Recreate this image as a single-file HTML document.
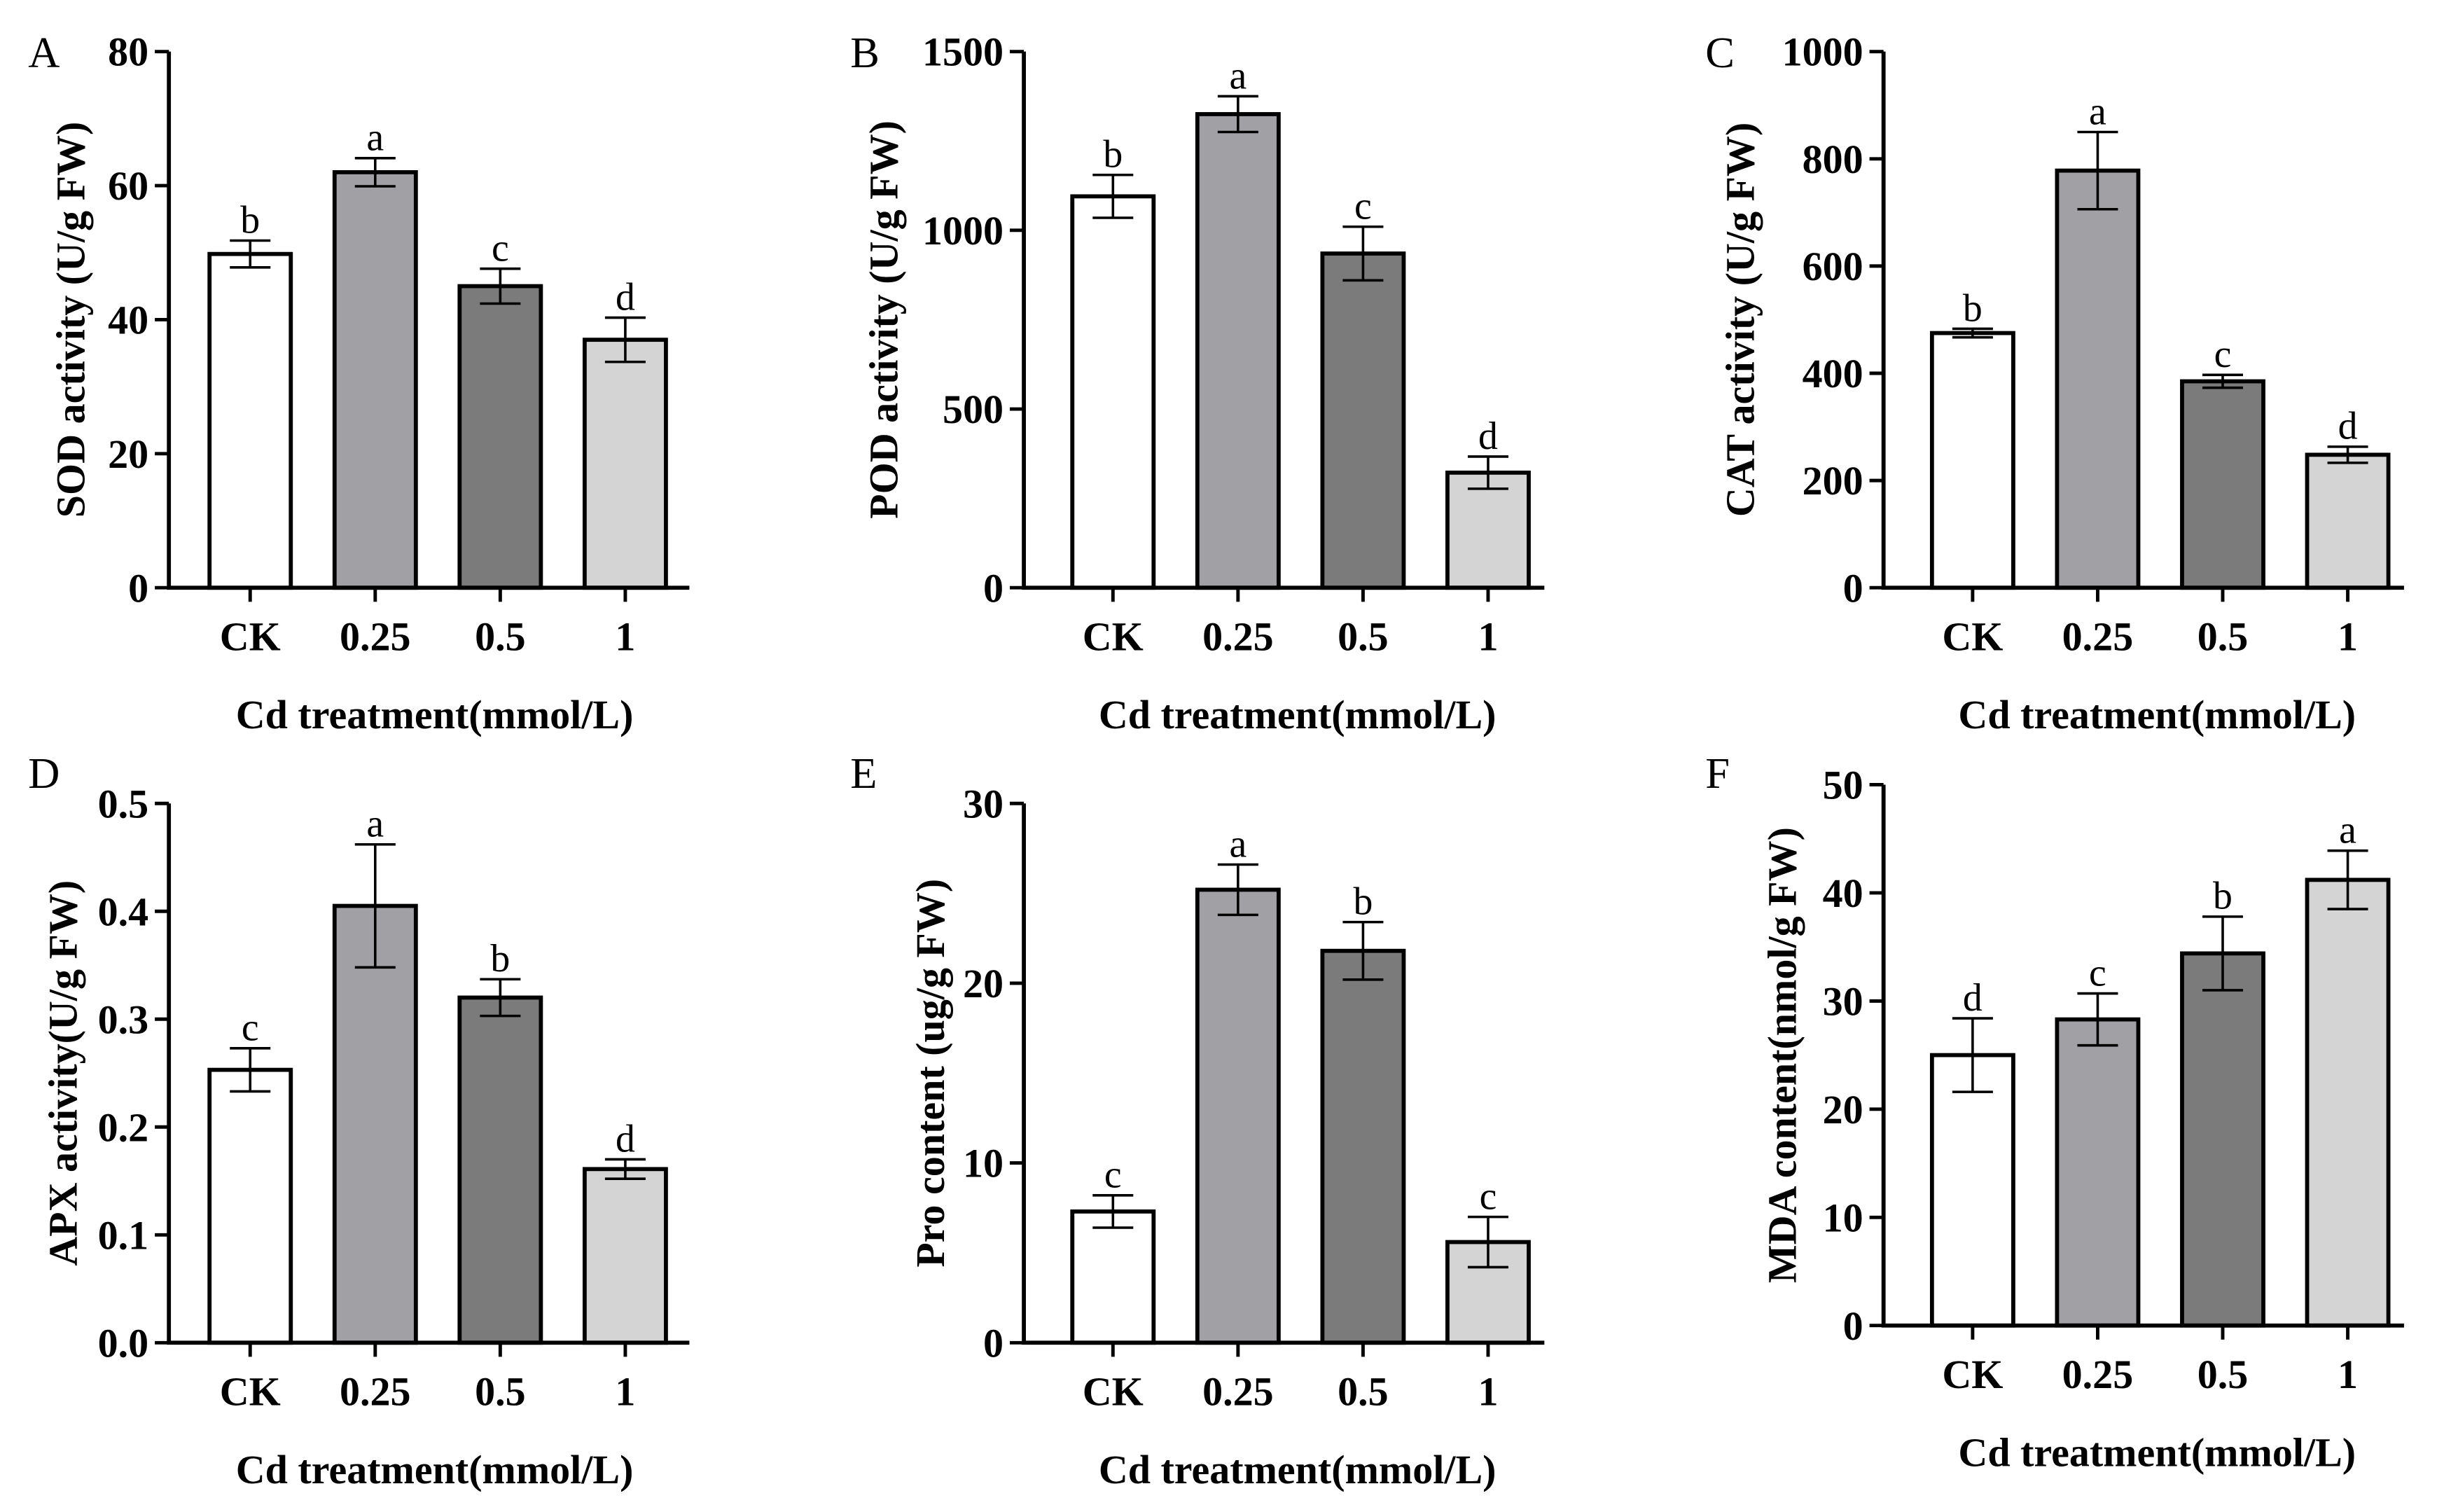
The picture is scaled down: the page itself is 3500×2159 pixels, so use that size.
<!DOCTYPE html>
<html><head><meta charset="utf-8">
<style>
html,body{margin:0;padding:0;background:#fff;}
svg{display:block;}
text{font-family:"Liberation Serif",serif;fill:#000;}
</style></head>
<body>
<svg id="fig" width="3500" height="2159" viewBox="0 0 1568 967.3" xmlns="http://www.w3.org/2000/svg"></svg>
<script>
const categories = ["CK","0.25","0.5","1"];
const sodValues = [49.8, 62, 45, 37];
const sodErrors = [2, 2.1, 2.6, 3.3];
const sodLetters = ["b","a","c","d"];
const sodTicks = [0,20,40,60,80];
const podValues = [1095, 1325, 935, 322];
const podErrors = [60, 50, 75, 45];
const podLetters = ["b","a","c","d"];
const podTicks = [0,500,1000,1500];
const catValues = [475, 778, 385, 248];
const catErrors = [8, 72, 12, 15];
const catLetters = ["b","a","c","d"];
const catTicks = [0,200,400,600,800,1000];
const apxValues = [0.253, 0.405, 0.320, 0.161];
const apxErrors = [0.02, 0.057, 0.017, 0.009];
const apxLetters = ["c","a","b","d"];
const apxTicks = [0,0.1,0.2,0.3,0.4,0.5];
const apxTickLabels = ["0.0","0.1","0.2","0.3","0.4","0.5"];
const proValues = [7.3, 25.2, 21.8, 5.6];
const proErrors = [0.9, 1.4, 1.6, 1.4];
const proLetters = ["c","a","b","c"];
const proTicks = [0,10,20,30];
const mdaValues = [25, 28.3, 34.4, 41.2];
const mdaErrors = [3.4, 2.4, 3.4, 2.7];
const mdaLetters = ["d","c","b","a"];
const mdaTicks = [0,10,20,30,40,50];

const NS="http://www.w3.org/2000/svg";
const svg=document.getElementById('fig');
const fills=["#ffffff","#a0a0a5","#7b7b7b","#d4d4d4"];
function mk(tag,attrs,parent){const e=document.createElementNS(NS,tag);for(const k in attrs)e.setAttribute(k,attrs[k]);(parent||svg).appendChild(e);return e;}

function panel(o){
  const g=mk('g',{});
  
  
  const max=o.ticks[o.ticks.length-1];
  const y=v=>o.y0-(v/max)*(o.y0-o.yTop);
  const x=i=>o.ax+o.off+i*80;
  const L=mk('text',{x:o.lx,y:o.ly,'font-size':28},g);L.textContent=o.id;
  
  
  o.values.forEach((v,i)=>{
    const r=mk('rect',{x:x(i)-26,y:y(v),width:52,height:o.y0-y(v),fill:fills[i],stroke:'#000','stroke-width':2.6},g);
    
    
    const e=o.errors[i],cx=x(i);
    const eb=mk('path',{d:`M${cx} ${y(v+e)}V${y(v-e)}M${cx-13} ${y(v+e)}H${cx+13}M${cx-13} ${y(v-e)}H${cx+13}`,stroke:'#000','stroke-width':1.6,fill:'none'},g);
    
    
    const t=mk('text',{x:cx,y:y(v+e)-5,'font-size':25,'text-anchor':'middle'},g);t.textContent=o.letters[i];
    
    
    mk('line',{x1:cx,x2:cx,y1:o.y0,y2:o.y0+9,stroke:'#000','stroke-width':2.2},g);
    const tl=mk('text',{x:cx,y:o.y0+40,'font-size':26,'font-weight':'bold','text-anchor':'middle'},g);tl.textContent=categories[i];
    
    
  });
  const ax=mk('path',{d:`M${o.ax} ${o.yTop}V${o.y0}H${o.ax+333}`,stroke:'#000','stroke-width':2.6,fill:'none'},g);
  
  
  o.ticks.forEach((t,i)=>{
    mk('line',{x1:o.ax-9,x2:o.ax,y1:y(t),y2:y(t),stroke:'#000','stroke-width':2.2},g);
    const tt=mk('text',{x:o.ax-13,y:y(t)+9,'font-size':26,'font-weight':'bold','text-anchor':'end'},g);
    tt.textContent=o.tickLabels?o.tickLabels[i]:String(t);
    
    
  });
  const yt=mk('text',{transform:`translate(${o.ytx},${(o.yTop+o.y0)/2}) rotate(-90)`,'font-size':26,'font-weight':'bold','text-anchor':'middle'},g);
  yt.textContent=o.ytitle;
  
  
  const xt=mk('text',{x:o.ax+o.off+118,y:o.y0+90,'font-size':26,'font-weight':'bold','text-anchor':'middle'},g);
  xt.textContent="Cd treatment(mmol/L)";
  
  
}
panel({id:'A',ax:108,off:52,lx:18,ly:43,ytx:54,yTop:33,y0:376,values:sodValues,errors:sodErrors,letters:sodLetters,ticks:sodTicks,ytitle:'SOD activity (U/g FW)'});
panel({id:'B',ax:655,off:57,lx:544,ly:43,ytx:574,yTop:33,y0:376,values:podValues,errors:podErrors,letters:podLetters,ticks:podTicks,ytitle:'POD activity (U/g FW)'});
panel({id:'C',ax:1205,off:57,lx:1091,ly:43,ytx:1122,yTop:33,y0:376,values:catValues,errors:catErrors,letters:catLetters,ticks:catTicks,ytitle:'CAT activity (U/g  FW)'});
panel({id:'D',ax:108,off:52,lx:18,ly:504,ytx:49,yTop:514,y0:859,values:apxValues,errors:apxErrors,letters:apxLetters,ticks:apxTicks,tickLabels:apxTickLabels,ytitle:'APX activity(U/g FW)'});
panel({id:'E',ax:655,off:57,lx:544,ly:504,ytx:604,yTop:514,y0:859,values:proValues,errors:proErrors,letters:proLetters,ticks:proTicks,ytitle:'Pro content (ug/g FW)'});
panel({id:'F',ax:1205,off:57,lx:1091,ly:504,ytx:1149,yTop:502,y0:848,values:mdaValues,errors:mdaErrors,letters:mdaLetters,ticks:mdaTicks,ytitle:'MDA content(nmol/g FW)'});
</script>
</body></html>
